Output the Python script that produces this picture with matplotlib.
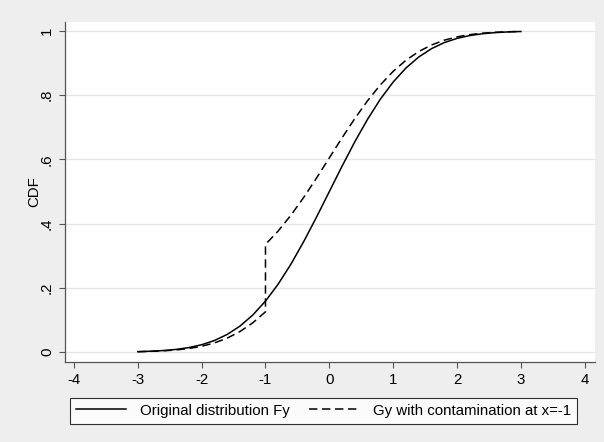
import matplotlib.pyplot as plt
import numpy as np

plt.rcParams['font.family'] = ['Liberation Sans', 'DejaVu Sans']
plt.rcParams['axes.unicode_minus'] = False

# x grid and the two CDFs
x = [-3.0, -2.8, -2.6, -2.4, -2.2, -2.0, -1.8, -1.6, -1.4, -1.2, -1.0,
     -0.8, -0.6, -0.4, -0.2, 0.0, 0.2, 0.4, 0.6, 0.8, 1.0,
     1.2, 1.4, 1.6, 1.8, 2.0, 2.2, 2.4, 2.6, 2.8, 3.0]
fy = [0.0013, 0.0026, 0.0047, 0.0082, 0.0139, 0.0228, 0.0359, 0.0548, 0.0808, 0.1151, 0.1587,
      0.2119, 0.2743, 0.3446, 0.4207, 0.5000, 0.5793, 0.6554, 0.7257, 0.7881, 0.8413,
      0.8849, 0.9192, 0.9452, 0.9641, 0.9772, 0.9861, 0.9918, 0.9953, 0.9974, 0.9987]

# contaminated cdf has a jump at x=-1 so it gets an extra point there
gx = [-3.0, -2.8, -2.6, -2.4, -2.2, -2.0, -1.8, -1.6, -1.4, -1.2, -1.0, -1.0,
      -0.8, -0.6, -0.4, -0.2, 0.0, 0.2, 0.4, 0.6, 0.8, 1.0,
      1.2, 1.4, 1.6, 1.8, 2.0, 2.2, 2.4, 2.6, 2.8, 3.0]
gy = [0.0010, 0.0021, 0.0037, 0.0065, 0.0110, 0.0180, 0.0284, 0.0433, 0.0638, 0.0909, 0.1254, 0.3354,
      0.3774, 0.4267, 0.4822, 0.5424, 0.6050, 0.6676, 0.7278, 0.7833, 0.8326, 0.8746,
      0.9091, 0.9362, 0.9567, 0.9716, 0.9820, 0.9890, 0.9935, 0.9963, 0.9979, 0.9990]

xticks = [-4, -3, -2, -1, 0, 1, 2, 3, 4]
yticks = [0, 0.2, 0.4, 0.6, 0.8, 1.0]
ylabels = ['0', '.2', '.4', '.6', '.8', '1']

fs = 10.8

fig = plt.figure(figsize=(6.04, 4.42), dpi=100, facecolor='#eeeeee')
ax = fig.add_axes([0.1076, 0.181, 0.8774, 0.769])
ax.set_facecolor('white')

l1, = ax.plot(x, fy, color='black', lw=1.1, label='Original distribution Fy')
l2, = ax.plot(gx, gy, color='black', lw=1.1, dashes=(5.5, 3), label='Gy with contamination at x=-1')

ax.set_xlim(-4.14, 4.16)
ax.set_ylim(-0.031, 1.028)
ax.set_xticks(xticks)
ax.set_yticks(yticks)
ax.set_yticklabels(ylabels, rotation=90, va='center')
ax.tick_params(direction='out', length=4, width=0.8, color='#555555', labelsize=fs, pad=4)
ax.grid(axis='y', color='#e6e6e6', lw=1)
ax.set_axisbelow(True)
ax.set_ylabel('CDF', fontsize=fs, labelpad=-1)

for s in ['top', 'right']:
    ax.spines[s].set_visible(False)
for s in ['left', 'bottom']:
    ax.spines[s].set_color('#555555')
    ax.spines[s].set_linewidth(0.9)

leg = fig.legend(handles=[l1, l2], loc='center left', ncol=2,
                 bbox_to_anchor=(70 / 604, 1 - 410.5 / 442),
                 fontsize=fs, handlelength=3.35, frameon=True, fancybox=False,
                 borderaxespad=0, borderpad=0.4, handletextpad=0.9, columnspacing=1.3)
leg.get_frame().set_edgecolor('black')
leg.get_frame().set_linewidth(0.8)

fig.savefig('out.png', dpi=100, facecolor=fig.get_facecolor())
